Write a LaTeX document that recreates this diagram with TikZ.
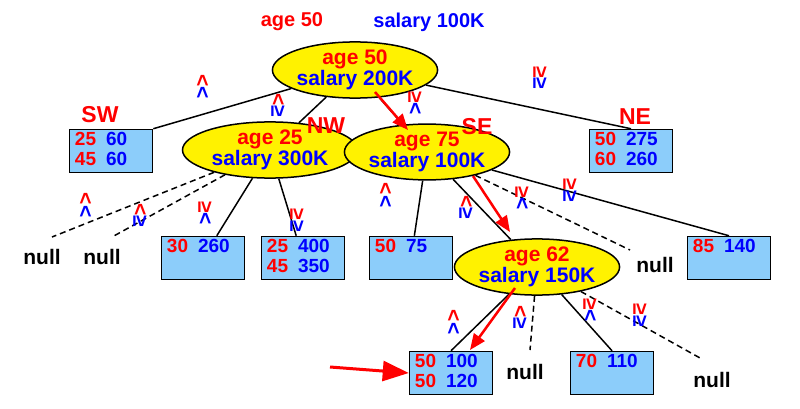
\documentclass[tikz,border=0pt]{standalone}
\usepackage{fontspec}
\setmainfont{Liberation Sans}
\usetikzlibrary{shapes.geometric,arrows.meta}
\definecolor{boxblue}{RGB}{140,205,250}
\begin{document}
\begin{tikzpicture}[x=1pt,y=-1pt,font=\bfseries\fontsize{20}{20}\selectfont,
 ell/.style={ellipse,draw,line width=1.5pt,fill=yellow,inner sep=0pt,align=center,font=\bfseries\fontsize{21}{18}\selectfont},
 box/.style={draw,line width=1.5pt,fill=boxblue,minimum width=83pt,minimum height=43pt},
 edge/.style={line width=1.5pt},
 dedge/.style={line width=1.5pt,dash pattern=on 6pt off 4pt},
 lbl/.style={rotate=-90,font=\bfseries\fontsize{21}{21}\selectfont,inner sep=0pt},
 red arrow/.style={red,line width=2.5pt,-{Triangle[length=16pt,width=13pt]}},
 dir/.style={red,font=\bfseries\fontsize{23}{23}\selectfont},
 nul/.style={font=\bfseries\fontsize{21}{21}\selectfont}]
\useasboundingbox (0,0) rectangle (800,409);
\newcommand{\tv}[2]{\textcolor{red}{#1}\textcolor{blue}{#2}}
\newcommand{\rr}[1]{\textcolor{red}{#1}}
\newcommand{\bb}[1]{\textcolor{blue}{#1}}
% headings
\node[red] at (292,22) {age 50};
\node[blue] at (429,22) {salary 100K};
% ellipses
\node[ell,minimum width=155pt,minimum height=46pt] (r) at (355,70) {\rr{age 50}\\\bb{salary 200K}};
\node[ell,minimum width=175pt,minimum height=46pt] (a) at (270,150) {\rr{age 25}\\\bb{salary 300K}};
\node[ell,minimum width=155pt,minimum height=46pt] (b) at (427,152) {\rr{age 75}\\\bb{salary 100K}};
\node[ell,minimum width=150pt,minimum height=46pt] (c) at (537,267) {\rr{age 62}\\\bb{salary 150K}};
% boxes
\newcommand{\bx}[6]{\node[box] (#1) at (#2) {};
 \node[anchor=north west,align=left,inner sep=0pt,font=\bfseries\fontsize{19}{20}\selectfont] at ([shift={(6pt,-3pt)}]#1.north west) {\rr{#3}\hspace{10pt}\bb{#4}\\\rr{#5}\hspace{10pt}\bb{#6}};}
\bx{sw}{111,151}{25}{60}{45}{60}
\bx{ne}{631,151}{50}{275}{60}{260}
\bx{b1}{203,258}{30}{260}{}{}
\bx{b2}{303,258}{25}{400}{45}{350}
\bx{b3}{411,258}{50}{75}{}{}
\bx{b4}{729,258}{85}{140}{}{}
\bx{b5}{451,373}{50}{100}{50}{120}
\bx{b6}{612,373}{70}{110}{}{}
% nulls
\node[nul] (n1) at (42,257) {null};
\node[nul] (n2) at (102,257) {null};
\node[nul] (n3) at (655,265) {null};
\node[nul] (n4) at (525,372) {null};
\node[nul] (n5) at (712,380) {null};
\coordinate (e1) at (52,237); \coordinate (e2) at (112,237);
\coordinate (e3) at (630,250); \coordinate (e4) at (530,350);
\coordinate (e5) at (700,358);
% quadrant names
\node[dir] at (100,115) {SW};
\node[dir] at (326,126) {NW};
\node[dir] at (477,127) {SE};
\node[dir] at (635,117) {NE};
% edges
\draw[edge] (r) -- (sw.north east);
\draw[edge] (r) -- (a);
\draw[edge] (r) -- (b);
\draw[edge] (r) -- (ne.north);
\draw[dedge] (a) -- (e1);
\draw[dedge] (a) -- (e2);
\draw[edge] (a) -- (b1);
\draw[edge] (a) -- (b2);
\draw[edge] (b) -- (b3);
\draw[edge] (b) -- (c);
\draw[dedge] (b) -- (e3);
\draw[edge] (b) -- (b4.north);
\draw[edge] (c) -- (b5.north);
\draw[dedge] (c) -- (e4);
\draw[edge] (c) -- (b6.north);
\draw[dedge] (c) -- (e5);
% edge labels
\node[lbl] at (202,87) {\tv{<}{<}};
\node[lbl] at (278,105) {\tv{<}{≥}};
\node[lbl] at (415,103) {\tv{≥}{<}};
\node[lbl] at (540,78) {\tv{≥}{≥}};
\node[lbl] at (85,205) {\tv{<}{<}};
\node[lbl] at (140,215) {\tv{<}{≥}};
\node[lbl] at (205,213) {\tv{≥}{<}};
\node[lbl] at (297,220) {\tv{≥}{≥}};
\node[lbl] at (385,195) {\tv{<}{<}};
\node[lbl] at (466,207) {\tv{<}{≥}};
\node[lbl] at (522,198) {\tv{≥}{<}};
\node[lbl] at (570,190) {\tv{≥}{≥}};
\node[lbl] at (453,322) {\tv{<}{<}};
\node[lbl] at (520,317) {\tv{<}{≥}};
\node[lbl] at (590,310) {\tv{≥}{<}};
\node[lbl] at (640,315) {\tv{≥}{≥}};
% red arrows
\coordinate (p1) at (375,92); \coordinate (q1) at (408,130);
\coordinate (p2) at (473,176); \coordinate (q2) at (510,232);
\coordinate (p3) at (515,288); \coordinate (q3) at (470,350);
\coordinate (p4) at (330,367);
\draw[red arrow] (p1) -- (q1);
\draw[red arrow] (p2) -- (q2);
\draw[red arrow] (p3) -- (q3);
\draw[red,line width=3pt,-{Triangle[length=26pt,width=20pt]}] (p4) -- (b5.west);
\end{tikzpicture}
\end{document}
